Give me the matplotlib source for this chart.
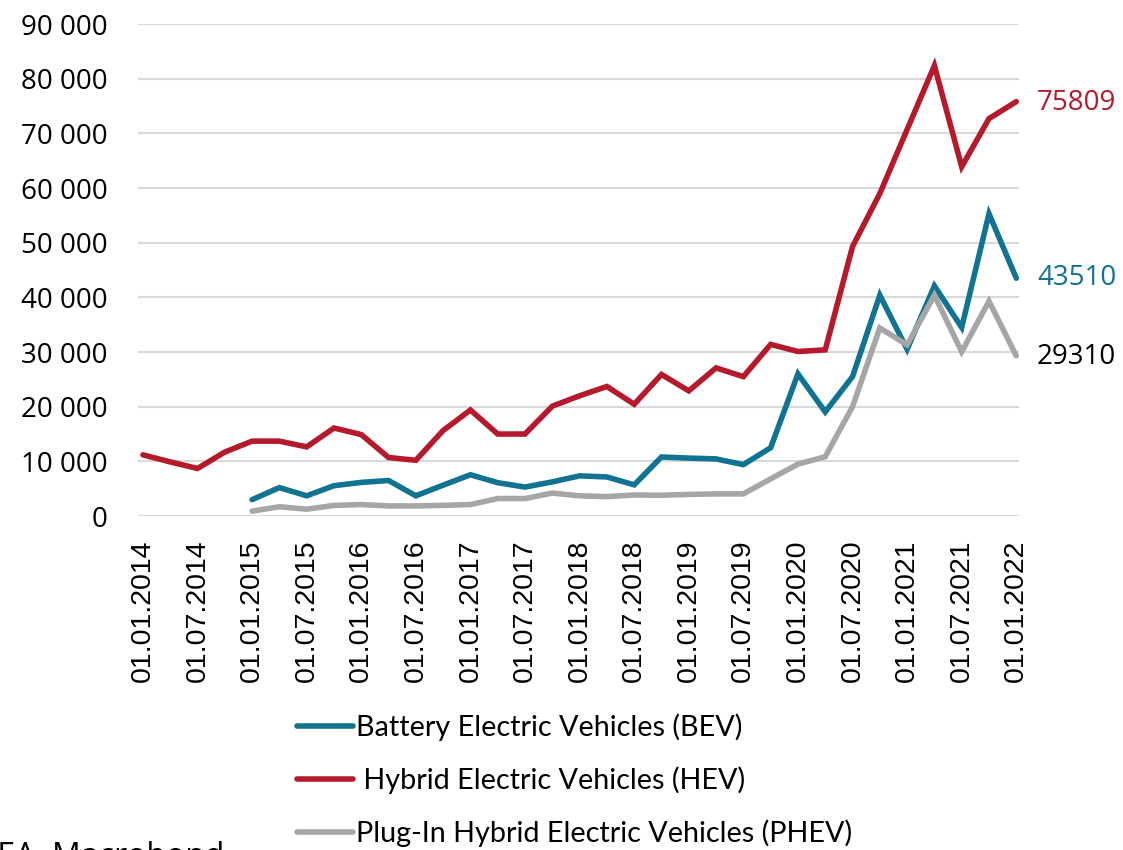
import numpy as np
import matplotlib.pyplot as plt
import pandas as pd
from matplotlib.ticker import FuncFormatter

# data (quarterly registrations)
dates = pd.date_range("2014-01-01", "2022-01-01", freq="QS")
hev = [11200, 9900, 8700, 11700, 13700, 13700, 12650, 16100, 14900, 10700,
       10200, 15650, 19400, 15000, 15000, 20100, 22000, 23700, 20450, 25900,
       22900, 27100, 25500, 31400, 30100, 30400, 49300, 59000, 70700, 82400,
       63900, 72700, 75809]
bev = [np.nan, np.nan, np.nan, np.nan, 3000, 5200, 3700, 5550, 6150, 6500,
       3700, 5650, 7550, 6100, 5300, 6250, 7350, 7150, 5700, 10800,
       10600, 10450, 9400, 12500, 26000, 19050, 25500, 40400, 30500, 42100,
       34500, 55300, 43510]
phev = [np.nan, np.nan, np.nan, np.nan, 900, 1700, 1250, 1950, 2100, 1850,
        1850, 1950, 2100, 3200, 3200, 4200, 3700, 3550, 3850, 3800,
        3950, 4050, 4050, 6800, 9500, 10850, 20000, 34400, 31300, 40400,
        30050, 39300, 29310]
tick_labels = [d.strftime("%d.%m.%Y") for d in dates]

red = "#B5192B"
blue = "#0F7391"
grey = "#A6A6A6"
sans = ["Open Sans", "DejaVu Sans"]

fig = plt.figure(figsize=(11.23, 8.5), dpi=100)
ax = fig.add_axes([0.1229, 0.3929, 0.7845, 0.5788])

x = np.arange(len(dates))
l_bev, = ax.plot(x, bev, color=blue, lw=4, solid_capstyle="round", solid_joinstyle="miter")
l_hev, = ax.plot(x, hev, color=red, lw=4, solid_capstyle="round", solid_joinstyle="miter")
l_phev, = ax.plot(x, phev, color=grey, lw=4, solid_capstyle="round", solid_joinstyle="miter")

ax.set_xlim(-0.18, 32.1)
ax.set_ylim(0, 90000)
ax.set_yticks(np.arange(0, 90001, 10000))
ax.yaxis.set_major_formatter(FuncFormatter(lambda v, p: f"{int(v):,}".replace(",", " ")))
ax.set_xticks(x[::2])
ax.set_xticklabels(tick_labels[::2], rotation=90, fontsize=20.5,
                   family=["Liberation Sans", "DejaVu Sans"])
for t in ax.get_yticklabels():
    t.set_fontfamily(sans)
    t.set_fontsize(20)
ax.tick_params(axis="y", length=0, pad=22)
ax.tick_params(axis="x", length=0, pad=17)
ax.grid(axis="y", color="#D9D9D9", lw=1.5)
ax.set_axisbelow(True)
for s in ax.spines.values():
    s.set_visible(False)

# end value labels
ax.annotate("75809", xy=(1037 / 1123, 1 - 103 / 850), xycoords="figure fraction",
            va="center", ha="left", color=red, fontsize=20, family=sans)
ax.annotate("43510", xy=(1037 / 1123, 1 - 278 / 850), xycoords="figure fraction",
            va="center", ha="left", color=blue, fontsize=20, family=sans)
ax.annotate("29310", xy=(1037 / 1123, 1 - 357 / 850), xycoords="figure fraction",
            va="center", ha="left", color="black", fontsize=20, family=sans)

fig.legend([l_bev, l_hev, l_phev],
           ["Battery Electric Vehicles (BEV)", " Hybrid Electric Vehicles (HEV)",
            "Plug-In Hybrid Electric Vehicles (PHEV)"],
           loc="upper left", bbox_to_anchor=(283 / 1123, 1 - 699 / 850),
           frameon=False, handlelength=1.95, handletextpad=0.1, labelspacing=0.88,
           borderpad=0, prop={"family": ["Lato", "DejaVu Sans"], "size": 20.7})

fig.text(224 / 1123, 1 - 866 / 850, "Source: ACEA, Macrobond", ha="right", va="baseline",
         fontsize=23, family=sans)

fig.savefig("out.png", dpi=100)
